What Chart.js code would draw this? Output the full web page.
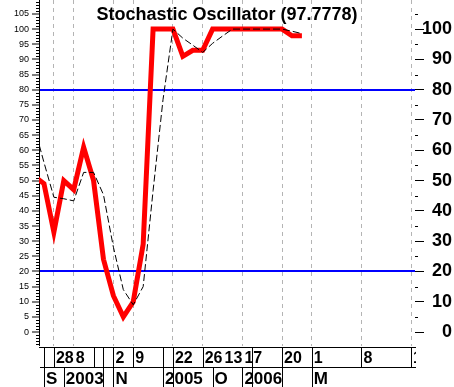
<!DOCTYPE html>
<html>
<head>
<meta charset="utf-8">
<script src="https://cdn.jsdelivr.net/npm/chart.js@4.4.1/dist/chart.umd.min.js"></script>
<style>
  body { margin: 0; background: #fff; }
  #wrap { width: 454px; height: 387px; }
</style>
</head>
<body>
<div id="wrap"><canvas id="stoch" width="454" height="387"></canvas></div>
<script>
const chartTitle = "Stochastic Oscillator (97.7778)";

// one value per bar, the first bar sits just left of the plot edge
const firstBar = -1;
const percentK = [51.5, 49, 33, 50, 47, 61, 50, 24, 12, 5, 10, 29, 100, 100, 100, 91, 93, 93,
  100, 100, 100, 100, 100, 100, 100, 100, 97.8, 97.8];
const percentD = [68, 56, 44.5, 44, 43.3, 52.7, 52.7, 45.3, 28, 14, 9, 15, 46.7, 76.7, 100, 97, 94.7, 92.3,
  95.3, 97.7, 100, 100, 100, 100, 100, 100, 99.3, 98.5];

const leftTicks = [0, 5, 10, 15, 20, 25, 30, 35, 40, 45, 50, 55, 60, 65, 70, 75, 80, 85, 90, 95, 100, 105];
const rightTicks = [0, 10, 20, 30, 40, 50, 60, 70, 80, 90, 100];
const levels = [20, 80];

// bottom date strip (bar numbers)
const gridBars = [1, 3, 7, 9, 13, 16, 20, 24, 27, 32, 37];
const dayLabels = ["28", "8", "2", "9", "22", "26", "13", "17", "20", "1", "8", "1"];
const dayBars = [1, 3, 7, 9, 13, 16, 18, 20, 24, 27, 32, 37];
const dayLines = [0, 1, 5, 6, 7, 9, 12, 13, 16, 21, 24, 27, 32, 37];
const monthLabels = ["S", "2003", "N", "2005", "O", "2006", "M"];
const monthBars = [0, 2, 7, 12, 17, 20, 27];
const monthLines = [0, 2, 6, 7, 12, 13, 17, 20, 21, 24, 27];

const FONT = "'Liberation Sans', Arial, sans-serif";
const toPoints = arr => arr.map((v, i) => ({ x: firstBar + i, y: v }));

const extras = {
  id: "extras",
  afterDraw(chart) {
    const ctx = chart.ctx;
    const x = chart.scales.x;
    const y = chart.scales.y;
    const area = chart.chartArea;
    ctx.save();
    ctx.strokeStyle = "#000";
    ctx.lineWidth = 1;

    // minor ticks, left every unit, right every 5
    ctx.beginPath();
    for (let v = -4; v <= 109; v++) {
      if (v % 5 === 0) continue;
      const py = Math.round(y.getPixelForValue(v)) + 0.5;
      ctx.moveTo(area.left - 3, py);
      ctx.lineTo(area.left, py);
    }
    for (let v = 5; v <= 105; v += 10) {
      const py = Math.round(y.getPixelForValue(v)) + 0.5;
      ctx.moveTo(area.right, py);
      ctx.lineTo(area.right + 3, py);
    }
    ctx.stroke();

    // date strip
    const top = area.bottom + 1.5, mid = top + 20, bot = chart.height;
    ctx.beginPath();
    ctx.moveTo(area.left, top); ctx.lineTo(area.right + 1, top);
    ctx.moveTo(area.left + 1, mid); ctx.lineTo(area.right + 1, mid);
    dayLines.forEach(b => {
      const px = Math.round(x.getPixelForValue(b)) + 0.5;
      ctx.moveTo(px, top); ctx.lineTo(px, mid);
    });
    monthLines.forEach(b => {
      const px = Math.round(x.getPixelForValue(b)) + 0.5;
      ctx.moveTo(px, mid); ctx.lineTo(px, bot);
    });
    ctx.stroke();

    ctx.fillStyle = "#000";
    ctx.textAlign = "left";
    ctx.textBaseline = "alphabetic";
    ctx.save();
    ctx.beginPath();
    ctx.rect(0, top, area.right + 1, bot - top);
    ctx.clip();
    ctx.font = "bold 16px " + FONT;
    dayLabels.forEach((t, i) => ctx.fillText(t, x.getPixelForValue(dayBars[i]) + 2, top + 15));
    ctx.font = "bold 17px " + FONT;
    monthLabels.forEach((t, i) => ctx.fillText(t, x.getPixelForValue(monthBars[i]) + 2, mid + 16));
    ctx.restore();

    ctx.font = "bold 18px " + FONT;
    ctx.textAlign = "center";
    ctx.fillText(chartTitle, 227, 20);
    ctx.restore();
  }
};

new Chart(document.getElementById("stoch"), {
  type: "line",
  data: {
    datasets: [
      {
        label: "%D",
        data: toPoints(percentD),
        borderColor: "#000",
        borderWidth: 1,
        borderDash: [7, 3],
        pointRadius: 0,
        tension: 0,
        clip: 0
      },
      {
        label: "%K",
        data: toPoints(percentK),
        borderColor: "#ff0000",
        borderWidth: 5,
        pointRadius: 0,
        tension: 0,
        clip: 0
      }
    ]
  },
  options: {
    responsive: false,
    animation: false,
    devicePixelRatio: 1,
    layout: { padding: { left: 0, right: 2, top: 0, bottom: 0 } },
    plugins: { legend: { display: false }, tooltip: { enabled: false }, title: { display: false } },
    scales: {
      x: {
        type: "linear",
        min: -0.5,
        max: 37.4,
        afterBuildTicks: s => { s.ticks = gridBars.map(v => ({ value: v })); },
        afterFit: s => { s.height = 41; s.paddingLeft = 0; s.paddingRight = 0; },
        ticks: { display: false },
        grid: { color: "#b4b4b4", drawTicks: false },
        border: { display: false, dash: [4, 4] }
      },
      y: {
        position: "left",
        min: -4.6,
        max: 109.6,
        afterBuildTicks: s => { s.ticks = leftTicks.map(v => ({ value: v })); },
        afterFit: s => { s.width = 39; s.paddingTop = 0; s.paddingBottom = 0; },
        ticks: { color: "#000", padding: 3, font: { family: FONT, size: 9 } },
        grid: {
          color: c => levels.includes(c.tick && c.tick.value) ? "#0000ff" : "rgba(0,0,0,0)",
          lineWidth: c => levels.includes(c.tick && c.tick.value) ? 2 : 0,
          tickColor: "#000",
          tickWidth: 1,
          tickLength: 7
        },
        border: { display: true, color: "#000", width: 1 }
      },
      y2: {
        position: "right",
        min: -4.6,
        max: 109.6,
        afterBuildTicks: s => { s.ticks = rightTicks.map(v => ({ value: v })); },
        afterFit: s => { s.width = 37; s.paddingTop = 0; s.paddingBottom = 0; },
        ticks: { color: "#000", padding: 4, crossAlign: "far", font: { family: FONT, size: 18, weight: "bold" } },
        grid: { drawOnChartArea: false, tickColor: "#000", tickWidth: 1, tickLength: 9 },
        border: { display: false }
      }
    }
  },
  plugins: [extras]
});
</script>
</body>
</html>
